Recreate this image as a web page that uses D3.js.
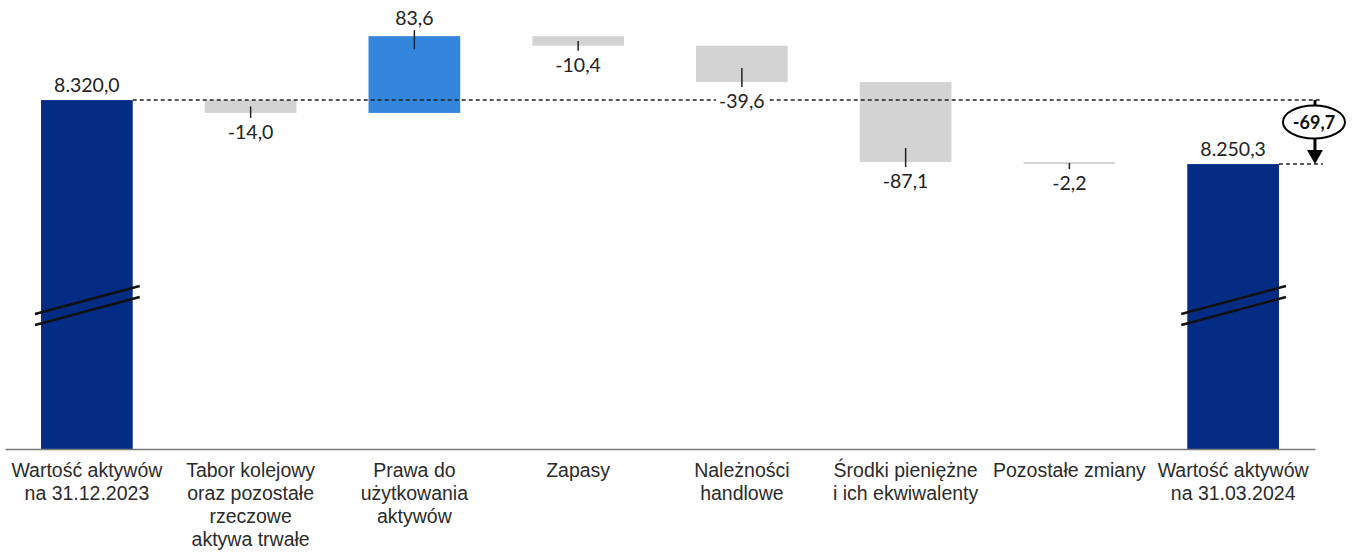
<!DOCTYPE html>
<html>
<head>
<meta charset="utf-8">
<script src="https://cdn.jsdelivr.net/npm/d3@7"></script>
<style>
body { margin: 0; background: #fff; }
svg { display: block; font-family: Lato, sans-serif; }
</style>
</head>
<body>
<svg id="chart"></svg>
<script>
let categories = [
  ["Wartość aktywów", "na 31.12.2023"],
  ["Tabor kolejowy", "oraz pozostałe", "rzeczowe", "aktywa trwałe"],
  ["Prawa do", "użytkowania", "aktywów"],
  ["Zapasy"],
  ["Należności", "handlowe"],
  ["Środki pieniężne", "i ich ekwiwalenty"],
  ["Pozostałe zmiany"],
  ["Wartość aktywów", "na 31.03.2024"]
]
let values = [8320.0, -14.0, 83.6, -10.4, -39.6, -87.1, -2.2, 8250.3]
let kinds = ["total", "delta", "delta", "delta", "delta", "delta", "delta", "total"]
let yDomain = [7940, 8400]

let width = 1356
let height = 554
let axisY = 449

let colors = { total: "#052c84", up: "#3485dc", down: "#d3d3d3" }

let pl = d3.formatLocale({ decimal: ",", thousands: ".", grouping: [3], currency: ["", ""], minus: "-" })
let fmt = pl.format(",.1f")

let svg = d3.select("#chart").attr("width", width).attr("height", height)

// running totals for the waterfall
let running = 0
let bars = values.map((v, i) => {
  if (kinds[i] === "total") {
    running = v
    return { i: i, v: v, lo: yDomain[0], hi: v, kind: "total" }
  }
  let start = running
  running += v
  return { i: i, v: v, lo: Math.min(start, running), hi: Math.max(start, running), kind: v >= 0 ? "up" : "down" }
})

let xScale = d3.scaleBand()
  .domain(d3.range(categories.length))
  .range([5, 1315])
  .paddingInner(0.44)
  .paddingOuter(0.22)

let yScale = d3.scaleLinear()
  .domain(yDomain)
  .range([axisY, 26.6])

let bw = xScale.bandwidth()

// bars
svg.selectAll("rect.bar")
  .data(bars)
  .enter()
  .append("rect")
  .attr("class", "bar")
  .attr("x", d => xScale(d.i))
  .attr("width", bw)
  .attr("y", d => yScale(d.hi))
  .attr("height", d => yScale(d.lo) - yScale(d.hi))
  .attr("fill", d => colors[d.kind])

// axis
let xAxis = d3.axisBottom(xScale).tickSize(0).tickSizeOuter(0).tickFormat("")
let gx = svg.append("g")
  .attr("transform", "translate(0," + axisY + ")")
  .call(xAxis)
gx.select(".domain").attr("stroke", "#7a7a7a").attr("stroke-width", 1.5)
gx.selectAll(".tick text").remove()
gx.selectAll(".tick")
  .append("text")
  .attr("text-anchor", "middle")
  .attr("fill", "#2b2b2b")
  .style("font-size", "19.5px")
  .each(function (d) {
    let t = d3.select(this)
    categories[d].forEach((line, k) => {
      t.append("tspan").attr("x", 0).attr("y", 28 + k * 23).text(line)
    })
  })

// break marks on the total bars
let breakY = 306
bars.filter(d => d.kind === "total").forEach(d => {
  let x0 = xScale(d.i) - 6
  let x1 = xScale(d.i) + bw + 7
  ;[-6, 5].forEach(off => {
    svg.append("line")
      .attr("x1", x0).attr("y1", breakY + off + 14)
      .attr("x2", x1).attr("y2", breakY + off - 14)
      .attr("stroke", "#111").attr("stroke-width", 2.5)
  })
})

// reference dashed lines
let first = bars[0]
let last = bars[bars.length - 1]
let calloutX = xScale(last.i) + bw + 36
svg.append("line")
  .attr("x1", xScale(first.i) + bw).attr("x2", calloutX + 7)
  .attr("y1", yScale(first.hi)).attr("y2", yScale(first.hi))
  .attr("stroke", "#222").attr("stroke-width", 1.5).attr("stroke-dasharray", "4,3")
svg.append("line")
  .attr("x1", xScale(last.i) + bw).attr("x2", calloutX + 8)
  .attr("y1", yScale(last.hi)).attr("y2", yScale(last.hi))
  .attr("stroke", "#222").attr("stroke-width", 1.5).attr("stroke-dasharray", "4,3")

// value labels + leader lines
let labelG = svg.append("g")
bars.forEach(d => {
  let cx = xScale(d.i) + bw / 2
  let top = yScale(d.hi)
  let bottom = yScale(d.lo)
  let mid = (top + bottom) / 2
  let base
  if (d.kind === "total") {
    base = top - 8
  } else if (d.kind === "up") {
    base = top - 11
    let end = base + 5
    labelG.append("line").attr("x1", cx).attr("x2", cx)
      .attr("y1", end).attr("y2", Math.min(mid, end + 19))
      .attr("stroke", "#222").attr("stroke-width", 1.5)
  } else {
    base = bottom + 26
    let end = base - 21
    labelG.append("line").attr("x1", cx).attr("x2", cx)
      .attr("y1", Math.max(mid, end - 19)).attr("y2", end)
      .attr("stroke", "#222").attr("stroke-width", 1.5)
  }
  let t = labelG.append("text")
    .attr("x", cx).attr("y", base)
    .attr("text-anchor", "middle")
    .attr("fill", "#222")
    .style("font-size", "19.5px")
    .text(fmt(d.v))
  if (d.kind === "down") {
    let bb = t.node().getBBox()
    labelG.insert("rect", function () { return t.node() })
      .attr("x", bb.x - 3).attr("y", bb.y + 3)
      .attr("width", bb.width + 6).attr("height", bb.height - 6)
      .attr("fill", "#fff")
  }
})

// change callout
let change = last.v - first.v
let yTop = yScale(first.hi)
let yBot = yScale(last.hi)
let ellCy = yTop + 22
svg.append("line")
  .attr("x1", calloutX).attr("x2", calloutX)
  .attr("y1", yTop).attr("y2", yBot - 12)
  .attr("stroke", "#000").attr("stroke-width", 3)
svg.append("path")
  .attr("d", "M" + (calloutX - 8) + "," + (yBot - 14) + "L" + (calloutX + 8) + "," + (yBot - 14) + "L" + calloutX + "," + yBot + "Z")
  .attr("fill", "#000")
svg.append("ellipse")
  .attr("cx", calloutX - 1).attr("cy", ellCy)
  .attr("rx", 31).attr("ry", 16.5)
  .attr("fill", "#fff").attr("stroke", "#000").attr("stroke-width", 2)
svg.append("text")
  .attr("x", calloutX - 1).attr("y", ellCy + 6.5)
  .attr("text-anchor", "middle")
  .attr("fill", "#111")
  .style("font-size", "18px")
  .style("font-weight", "bold")
  .text(fmt(change))
</script>
</body>
</html>
